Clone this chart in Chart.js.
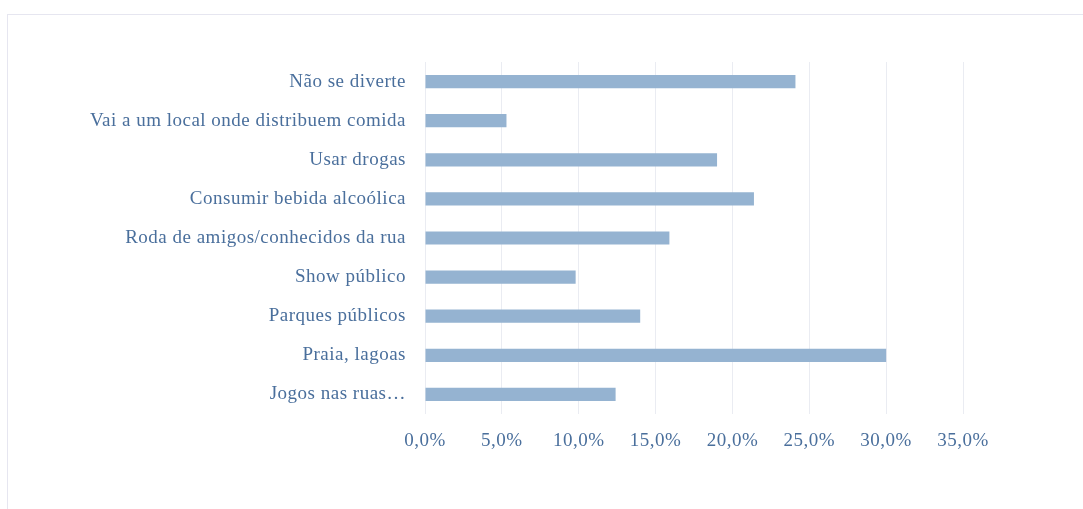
<!DOCTYPE html>
<html>
<head>
<meta charset="utf-8">
<script src="https://cdn.jsdelivr.net/npm/chart.js@4"></script>
<style>
  body { margin: 0; background: #fff; }
  .frame { position: absolute; left: 7px; top: 14px; right: 0; bottom: 0; border-top: 1px solid #e6e6f0; border-left: 1px solid #e6e6f0; }
  .wrap { position: absolute; left: 0; top: 0; width: 1083px; height: 509px; }
</style>
</head>
<body>
<div class="frame"></div>
<div class="wrap"><canvas id="myChart"></canvas></div>
<script>
const categories = [
  "Não se diverte",
  "Vai a um local onde distribuem comida",
  "Usar drogas",
  "Consumir bebida alcoólica",
  "Roda de amigos/conhecidos da rua",
  "Show público",
  "Parques públicos",
  "Praia, lagoas",
  "Jogos nas ruas…",
];
const values = [24.1, 5.3, 19.0, 21.4, 15.9, 9.8, 14.0, 30.0, 12.4];
const xTicks = [0, 5, 10, 15, 20, 25, 30, 35];

const textColor = "#4a6f9c";
const serif = "'Liberation Serif', 'DejaVu Serif', serif";

// the original font is a wide garamond, so spread the letters a bit
const spacing = {
  id: "spacing",
  beforeLayout(chart) { chart.ctx.letterSpacing = "0.5px"; },
  beforeDraw(chart) { chart.ctx.letterSpacing = "0.5px"; },
};

const ctx = document.getElementById("myChart");

const myChart = new Chart(ctx, {
  type: "bar",
  data: {
    labels: categories,
    datasets: [
      {
        label: "",
        data: values,
        backgroundColor: "#95b3d1",
        borderWidth: 0,
        barPercentage: 0.72,
        categoryPercentage: 0.47,
      },
    ],
  },
  plugins: [spacing],
  options: {
    indexAxis: "y",
    responsive: true,
    maintainAspectRatio: false,
    animation: false,
    plugins: {
      legend: false,
      tooltip: { enabled: false },
    },
    layout: {
      padding: { top: 62, left: 0, right: 120, bottom: 0 },
    },
    scales: {
      x: {
        min: 0,
        max: 35,
        afterBuildTicks: (scale) => {
          scale.ticks = xTicks.map((v) => ({ value: v }));
        },
        afterFit: (scale) => {
          scale.height = 95;
        },
        grid: { color: "#eaecf2", drawTicks: false },
        border: { display: false },
        ticks: {
          padding: 16,
          color: textColor,
          font: { family: serif, size: 19 },
          callback: (v) => v.toFixed(1).replace(".", ",") + "%",
        },
      },
      y: {
        afterFit: (scale) => {
          scale.width = 425;
        },
        grid: { display: false, drawTicks: false },
        border: { display: false },
        ticks: {
          padding: 19,
          color: textColor,
          font: { family: serif, size: 19 },
        },
      },
    },
  },
});
</script>
</body>
</html>
